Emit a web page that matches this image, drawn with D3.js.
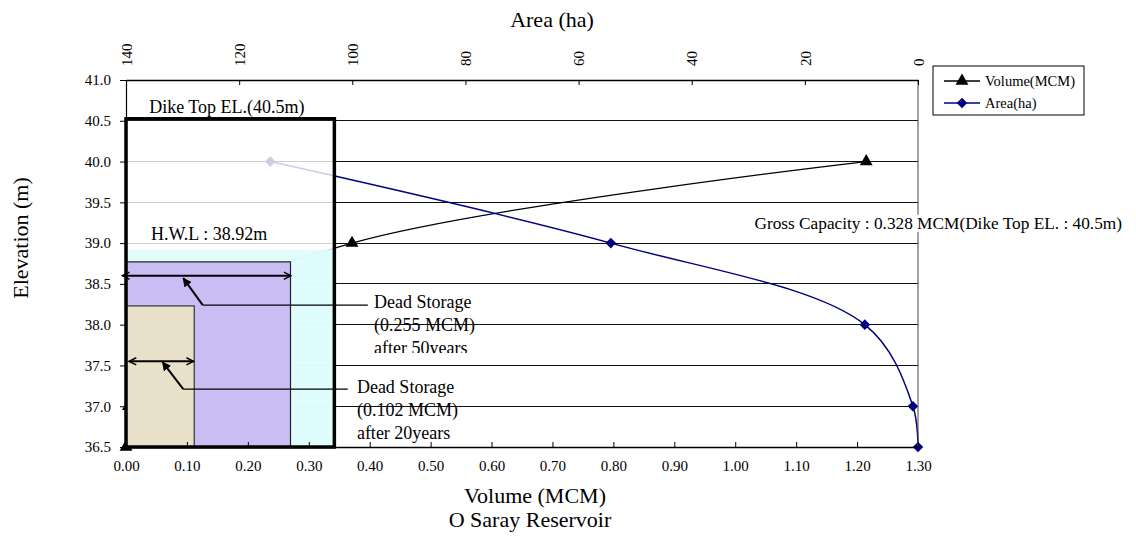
<!DOCTYPE html>
<html><head><meta charset="utf-8">
<script src="https://cdn.jsdelivr.net/npm/d3@7/dist/d3.min.js"></script>
<style>
body{margin:0;background:#fff;}
svg{display:block;font-family:"Liberation Serif","Times New Roman",serif;}
</style></head>
<body><svg id="c" width="1136" height="539"></svg>
<script>
// ---- data ----
const elevations = [36.5, 37.0, 38.0, 39.0, 40.0];
const volumeMCM  = [0.000, 0.004, 0.055, 0.371, 1.215];
const areaHa     = [0.0, 0.9, 9.4, 54.3, 114.5];
const elevTicks  = [36.5, 37.0, 37.5, 38.0, 38.5, 39.0, 39.5, 40.0, 40.5, 41.0];
const volTicks   = [0, 0.1, 0.2, 0.3, 0.4, 0.5, 0.6, 0.7, 0.8, 0.9, 1.0, 1.1, 1.2, 1.3];
const areaTicks  = [140, 120, 100, 80, 60, 40, 20, 0];
const seriesNames = ["Volume(MCM)", "Area(ha)"];
const dikeTopEL = 40.5, hwlEL = 38.92, grossVol = 0.342;
const dead50 = {vol: 0.27, el: 38.77, label: ["Dead Storage", "(0.255 MCM)", "after 50years"]};
const dead20 = {vol: 0.112, el: 38.23, label: ["Dead Storage", "(0.102 MCM)", "after 20years"]};
const grossText = "Gross Capacity : 0.328 MCM(Dike Top EL. : 40.5m)";

// ---- layout ----
const L = 126, R = 918, T = 80, B = 447;
const svg = d3.select("#c");
const x = d3.scaleLinear().domain([0, 1.3]).range([L, R]);
const xa = d3.scaleLinear().domain([140, 0]).range([L, R]);
const y = d3.scaleLinear().domain([36.5, 41]).range([B, T]);

// gridlines
svg.append("g").selectAll("line").data(elevTicks.filter(d => d < 41)).join("line")
  .attr("x1", L).attr("x2", R).attr("y1", d => y(d)).attr("y2", d => y(d))
  .attr("stroke", "#111").attr("stroke-width", 1).attr("shape-rendering", "crispEdges");

// series lines
const volPts = elevations.map((e, i) => [x(volumeMCM[i]), y(e)]);
const areaPts = elevations.map((e, i) => [xa(areaHa[i]), y(e)]);
const lineGen = d3.line().curve(d3.curveCatmullRom.alpha(0.5));
svg.append("path").attr("d", lineGen(volPts)).attr("fill", "none").attr("stroke", "#000").attr("stroke-width", 1.2);
svg.append("path").attr("d", lineGen(areaPts)).attr("fill", "none").attr("stroke", "#000080").attr("stroke-width", 1.5);
const tri = d3.symbol().type(d3.symbolTriangle).size(72);
const dia = d3.symbol().type(d3.symbolSquare).size(56);
svg.append("g").selectAll("path").data(volPts).join("path")
  .attr("transform", d => `translate(${d[0]},${d[1]})`).attr("d", tri).attr("fill", "#000");
svg.append("g").selectAll("path").data(areaPts).join("path")
  .attr("transform", d => `translate(${d[0]},${d[1]}) rotate(45)`).attr("d", dia).attr("fill", "#000080");

// overlays
const ov = svg.append("g");
ov.append("rect").attr("x", x(0)).attr("y", y(dikeTopEL)).attr("width", x(grossVol) - x(0)).attr("height", y(36.5) - y(dikeTopEL))
  .attr("fill", "#fff").attr("fill-opacity", 0.8);
ov.append("rect").attr("x", x(0)).attr("y", y(hwlEL)).attr("width", x(grossVol) - x(0)).attr("height", y(36.5) - y(hwlEL))
  .attr("fill", "#dcfdfd").attr("fill-opacity", 0.88);
ov.append("rect").attr("x", x(0)).attr("y", y(dead50.el)).attr("width", x(dead50.vol) - x(0)).attr("height", y(36.5) - y(dead50.el))
  .attr("fill", "#c8b6f3").attr("fill-opacity", 0.9).attr("stroke", "#222").attr("stroke-width", 1.2);
ov.append("rect").attr("x", x(0)).attr("y", y(dead20.el)).attr("width", x(dead20.vol) - x(0)).attr("height", y(36.5) - y(dead20.el))
  .attr("fill", "#ebe3c6").attr("fill-opacity", 0.92).attr("stroke", "#333").attr("stroke-width", 1.2);
ov.append("rect").attr("x", x(0)).attr("y", y(dikeTopEL) - 2).attr("width", x(grossVol) - x(0)).attr("height", y(36.5) - y(dikeTopEL) + 2)
  .attr("fill", "none").attr("stroke", "#000").attr("stroke-width", 3.5);

// axes frame
svg.append("line").attr("x1", R).attr("x2", R).attr("y1", T).attr("y2", B).attr("stroke", "#444").attr("stroke-width", 1);

const yAxis = svg.append("g").attr("transform", `translate(${L},0)`)
  .call(d3.axisLeft(y).tickValues(elevTicks).tickFormat(d3.format(".1f")).tickSize(6).tickPadding(9));
const xAxis = svg.append("g").attr("transform", `translate(0,${B})`)
  .call(d3.axisBottom(x).tickValues(volTicks).tickFormat(d3.format(".2f")).tickSizeInner(-5).tickSizeOuter(0).tickPadding(13));
const aAxis = svg.append("g").attr("transform", `translate(0,${T})`)
  .call(d3.axisTop(xa).tickValues(areaTicks).tickFormat(d3.format("d")).tickSizeInner(-5).tickSizeOuter(0));
aAxis.selectAll("text").attr("transform", "rotate(-90)").attr("x", 14).attr("y", 0).attr("dy", "0.35em").attr("text-anchor", "start");
[yAxis, xAxis, aAxis].forEach(a => {
  a.selectAll("text").attr("font-family", "Liberation Serif").attr("font-size", 15).attr("fill", "#000");
  a.selectAll("line").attr("stroke", "#000");
  a.select(".domain").attr("stroke", "#000").attr("stroke-width", 1.5);
});
yAxis.select(".domain").attr("stroke-width", 1.2);

// titles
svg.append("text").attr("x", 552).attr("y", 27).attr("text-anchor", "middle").attr("font-size", 22).text("Area (ha)");
svg.append("text").attr("x", 535).attr("y", 503).attr("text-anchor", "middle").attr("font-size", 22).text("Volume (MCM)");
svg.append("text").attr("x", 530).attr("y", 527).attr("text-anchor", "middle").attr("font-size", 22).text("O Saray Reservoir");
svg.append("text").attr("transform", "translate(28,238) rotate(-90)").attr("text-anchor", "middle").attr("font-size", 22).text("Elevation (m)");

// annotation texts
svg.append("text").attr("x", x(0.038)).attr("y", y(40.6)).attr("font-size", 18).text("Dike Top EL.(40.5m)");
svg.append("text").attr("x", x(0.041)).attr("y", y(39.04)).attr("font-size", 18).text("H.W.L : 38.92m");
const gBack = svg.append("rect").attr("fill", "#fff");
const gt = svg.append("text").attr("x", 1122).attr("y", y(39.25)).attr("dy", "0.35em").attr("text-anchor", "end").attr("font-size", 17.3).text(grossText);
const bb = gt.node().getBBox();
gBack.attr("x", bb.x - 2).attr("y", bb.y + 1).attr("width", bb.width + 4).attr("height", bb.height - 2);

// arrows
const defs = svg.append("defs");
defs.append("marker").attr("id", "solid").attr("viewBox", "0 0 10 10").attr("refX", 9).attr("refY", 5)
  .attr("markerWidth", 9).attr("markerHeight", 9).attr("markerUnits", "userSpaceOnUse").attr("orient", "auto")
  .append("path").attr("d", "M0,0L10,5L0,10z").attr("fill", "#000");
defs.append("marker").attr("id", "open").attr("viewBox", "0 0 10 10").attr("refX", 9).attr("refY", 5)
  .attr("markerWidth", 9).attr("markerHeight", 9).attr("markerUnits", "userSpaceOnUse").attr("orient", "auto-start-reverse")
  .append("path").attr("d", "M1,1L9,5L1,9").attr("fill", "none").attr("stroke", "#000").attr("stroke-width", 1.6);

function dbl(v0, v1, el) {
  svg.append("line").attr("x1", x(v0)).attr("x2", x(v1)).attr("y1", y(el)).attr("y2", y(el))
    .attr("stroke", "#000").attr("stroke-width", 2).attr("marker-start", "url(#open)").attr("marker-end", "url(#open)");
}
dbl(-0.006, 0.271, 38.6);
dbl(0.005, 0.111, 37.55);

function leader(v0, e0, v1, e1, vEnd) {
  svg.append("line").attr("x1", x(v0)).attr("y1", y(e0)).attr("x2", x(v1)).attr("y2", y(e1))
    .attr("stroke", "#000").attr("stroke-width", 2).attr("marker-end", "url(#solid)");
  svg.append("line").attr("x1", x(v0)).attr("y1", y(e0)).attr("x2", x(vEnd)).attr("y2", y(e0))
    .attr("stroke", "#000").attr("stroke-width", 1.2);
}
leader(0.126, 38.24, 0.094, 38.57, 0.397);
leader(0.094, 37.21, 0.060, 37.54, 0.364);

defs.append("clipPath").attr("id", "clip50").append("rect").attr("x", 300).attr("y", 280).attr("width", 300).attr("height", 73);
function block(lbl, v, el, clip) {
  const g = svg.append("g");
  if (clip) g.attr("clip-path", "url(#clip50)");
  lbl.forEach((t, i) => g.append("text").attr("x", x(v)).attr("y", y(el) + i * 23).attr("dy", "0.35em").attr("font-size", 18).text(t));
}
block(dead50.label, 0.407, 38.28, true);
block(dead20.label, 0.379, 37.235, false);

// legend
const lg = svg.append("g").attr("transform", "translate(933,66)");
lg.append("rect").attr("width", 151).attr("height", 49).attr("fill", "#fff").attr("stroke", "#000").attr("stroke-width", 1);
const cols = ["#000", "#000080"];
seriesNames.forEach((n, i) => {
  const yy = 15 + i * 22;
  lg.append("line").attr("x1", 11).attr("x2", 47).attr("y1", yy).attr("y2", yy).attr("stroke", cols[i]).attr("stroke-width", 1.3);
  lg.append("path").attr("transform", `translate(29,${yy})` + (i ? " rotate(45)" : "")).attr("d", i ? dia : tri).attr("fill", cols[i]);
  lg.append("text").attr("x", 52).attr("y", yy).attr("dy", "0.35em").attr("font-size", 14.5).text(n);
});
</script></body></html>
